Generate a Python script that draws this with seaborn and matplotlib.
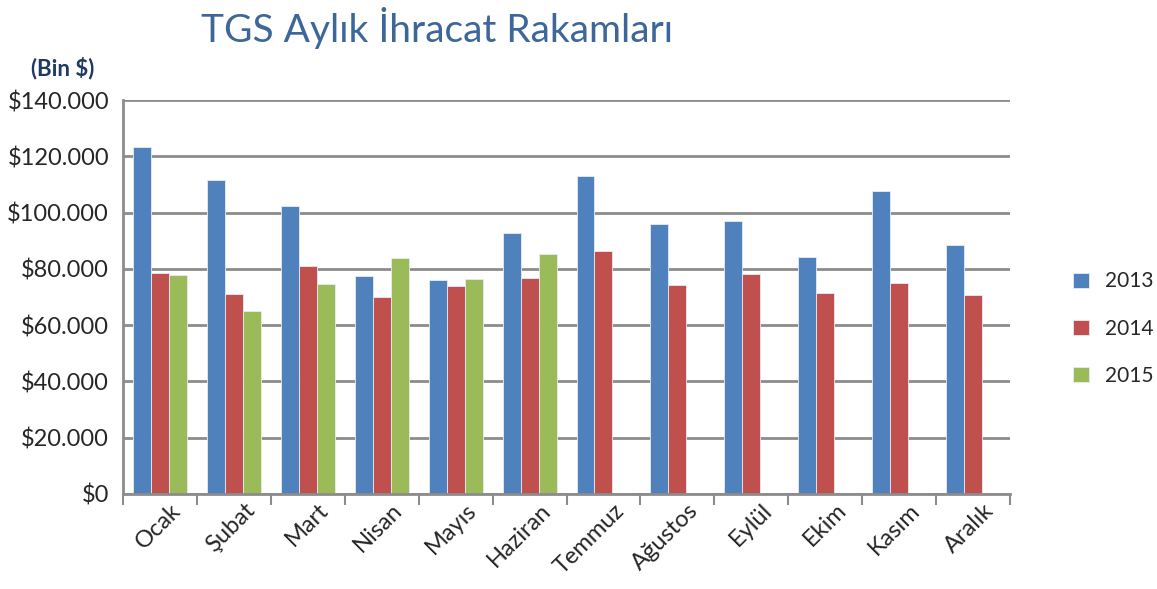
import numpy as np
import pandas as pd
import matplotlib
matplotlib.use("Agg")
import matplotlib.pyplot as plt
import matplotlib.transforms as mtransforms
import seaborn as sns
from matplotlib.ticker import FuncFormatter, FixedLocator

# ==========================================
# Data (thousand $)
# ==========================================
months = ["Ocak", "Şubat", "Mart", "Nisan", "Mayıs", "Haziran",
          "Temmuz", "Ağustos", "Eylül", "Ekim", "Kasım", "Aralık"]
years = ["2013", "2014", "2015"]
exp_2013 = [123400, 111600, 102500, 77400, 76100, 92900,
            113000, 96000, 97200, 84300, 107800, 88500]
exp_2014 = [78600, 71100, 81100, 69900, 74100, 76700,
            86300, 74200, 78100, 71600, 75000, 70900]
exp_2015 = [77700, 65200, 74500, 83800, 76400, 85300,
            np.nan, np.nan, np.nan, np.nan, np.nan, np.nan]
colors = ["#4F81BD", "#C0504D", "#9BBB59"]

df = pd.DataFrame({"Ay": months, "2013": exp_2013, "2014": exp_2014, "2015": exp_2015})
long_df = df.melt(id_vars="Ay", value_vars=years, var_name="Yıl", value_name="Değer")

# ==========================================
# Plot
# ==========================================
sns.set_style("white")
plt.rcParams["font.family"] = ["Lato", "DejaVu Sans"]

fig = plt.figure(figsize=(11.57, 5.89), dpi=100)
ax = fig.add_axes([0.1063, 0.1613, 0.7667, 0.6687])

sns.barplot(data=long_df, x="Ay", y="Değer", hue="Yıl", order=months, hue_order=years,
            palette=colors, width=0.73, saturation=1, edgecolor="#e6ecf4", linewidth=0.6,
            ax=ax)

ax.set_ylim(0, 140000)
ax.set_xlim(-0.5, len(months) - 0.5)
ax.set_yticks(np.arange(0, 140001, 20000))
ax.yaxis.set_major_formatter(FuncFormatter(lambda v, p: "${:,.0f}".format(v).replace(",", ".")))
ax.yaxis.grid(True, color="#8c8c8c", linewidth=2)
ax.set_axisbelow(True)

for s in ["top", "right"]:
    ax.spines[s].set_visible(False)
for s in ["left", "bottom"]:
    ax.spines[s].set_color("#8c8c8c")
    ax.spines[s].set_linewidth(2)

ax.tick_params(axis="y", which="major", length=6, width=2, color="#8c8c8c", labelsize=17, pad=4)
ax.tick_params(axis="x", which="major", length=0, labelsize=17, pad=4)
ax.xaxis.set_minor_locator(FixedLocator(np.arange(-0.5, len(months), 1)))
ax.tick_params(axis="x", which="minor", length=8, width=1.5, color="#8c8c8c", bottom=True)
shift = mtransforms.ScaledTranslation(10 / 100, 0, fig.dpi_scale_trans)
for lbl in ax.get_xticklabels():
    lbl.set_rotation(45)
    lbl.set_ha("right")
    lbl.set_rotation_mode("anchor")
    lbl.set_transform(lbl.get_transform() + shift)
ax.set_xlabel("")
ax.set_ylabel("")

fig.text(0.378, 0.952, "TGS Aylık İhracat Rakamları", fontsize=28, color="#3d6699",
         ha="center", va="center")
fig.text(0.054, 0.885, "(Bin $)", fontsize=16, fontweight="bold", color="#1f3864",
         ha="center", va="center")

ax.legend(loc="center left", bbox_to_anchor=(1.05, 0.42), frameon=False, fontsize=15,
          handlelength=0.75, handleheight=0.75, labelspacing=1.3, handletextpad=0.8)

fig.savefig("out.png", dpi=100)
